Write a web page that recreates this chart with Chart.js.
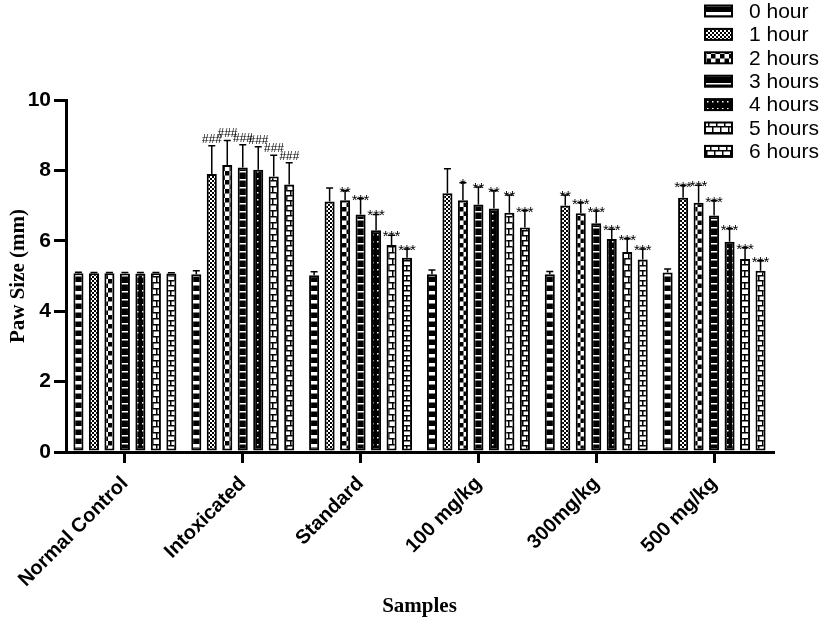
<!DOCTYPE html>
<html>
<head>
<meta charset="utf-8">
<script src="https://cdn.jsdelivr.net/npm/chart.js@4.4.0/dist/chart.umd.min.js"></script>
<style>
html, body { margin: 0; padding: 0; background: #fff; }
</style>
</head>
<body>
<canvas id="canvas" width="823" height="625"></canvas>
<script>
var categories = ['Normal Control', 'Intoxicated', 'Standard', '100 mg/kg', '300mg/kg', '500 mg/kg'];
var seriesNames = ['0 hour', '1 hour', '2 hours', '3 hours', '4 hours', '5 hours', '6 hours'];
var yTicks = [0, 2, 4, 6, 8, 10];

// mean paw size (mm) per hour
var hour0 = [5.08, 5.05, 5.02, 5.05, 5.05, 5.10];
var hour1 = [5.08, 7.90, 7.12, 7.35, 7.00, 7.22];
var hour2 = [5.08, 8.15, 7.15, 7.15, 6.78, 7.08];
var hour3 = [5.07, 8.08, 6.75, 7.03, 6.50, 6.72];
var hour4 = [5.07, 8.02, 6.30, 6.92, 6.05, 5.97];
var hour5 = [5.08, 7.83, 5.88, 6.80, 5.68, 5.48];
var hour6 = [5.07, 7.60, 5.52, 6.38, 5.47, 5.15];

// error (upper only)
var err0 = [0.03, 0.10, 0.10, 0.12, 0.08, 0.10];
var err1 = [0.02, 0.80, 0.38, 0.70, 0.30, 0.35];
var err2 = [0.02, 0.70, 0.27, 0.50, 0.30, 0.50];
var err3 = [0.03, 0.65, 0.45, 0.50, 0.35, 0.42];
var err4 = [0.03, 0.65, 0.45, 0.50, 0.28, 0.37];
var err5 = [0.02, 0.60, 0.28, 0.50, 0.38, 0.32];
var err6 = [0.02, 0.62, 0.25, 0.48, 0.30, 0.28];

// significance marks
var sig0 = ['', '', '', '', '', ''];
var sig1 = ['', '###', '', '', '**', '***'];
var sig2 = ['', '###', '**', '*', '***', '***'];
var sig3 = ['', '###', '***', '**', '***', '***'];
var sig4 = ['', '###', '***', '**', '***', '***'];
var sig5 = ['', '###', '***', '**', '***', '***'];
var sig6 = ['', '###', '***', '***', '***', '***'];

var SANS = '"Liberation Sans", Arial, sans-serif';
var SERIF = '"Liberation Serif", "Times New Roman", serif';

function makePattern(w, h, draw) {
    var c = document.createElement('canvas');
    c.width = w;
    c.height = h;
    var p = c.getContext('2d');
    draw(p);
    return document.getElementById('canvas').getContext('2d').createPattern(c, 'repeat');
}

var patterns = [
    // 0 hour: black with wide white dashes
    makePattern(8, 9, function (p) {
        p.fillStyle = '#000'; p.fillRect(0, 0, 8, 9);
        p.fillStyle = '#fff'; p.fillRect(0, 3, 8, 3.5);
    }),
    // 1 hour: fine checker
    makePattern(4, 4, function (p) {
        p.fillStyle = '#fff'; p.fillRect(0, 0, 4, 4);
        p.fillStyle = '#000'; p.fillRect(0, 0, 2, 2); p.fillRect(2, 2, 2, 2);
    }),
    // 2 hours: large checker
    makePattern(9, 9, function (p) {
        p.fillStyle = '#fff'; p.fillRect(0, 0, 9, 9);
        p.fillStyle = '#000'; p.fillRect(0, 0, 4.5, 4.5); p.fillRect(4.5, 4.5, 4.5, 4.5);
    }),
    // 3 hours: black with thin white lines
    makePattern(8, 8, function (p) {
        p.fillStyle = '#000'; p.fillRect(0, 0, 8, 8);
        p.fillStyle = '#fff'; p.fillRect(0, 3, 8, 1.5);
    }),
    // 4 hours: black with white dots
    makePattern(5, 7, function (p) {
        p.fillStyle = '#000'; p.fillRect(0, 0, 5, 7);
        p.fillStyle = '#fff'; p.fillRect(2, 3, 1.5, 1.5);
    }),
    // 5 hours: bricks
    makePattern(8, 12, function (p) {
        p.fillStyle = '#fff'; p.fillRect(0, 0, 8, 12);
        p.fillStyle = '#000';
        p.fillRect(0, 0, 8, 1.5); p.fillRect(0, 6, 8, 1.5);
        p.fillRect(4, 0, 1.5, 6); p.fillRect(0, 6, 1.5, 6);
    }),
    // 6 hours: tight interlocking bricks
    makePattern(8, 10, function (p) {
        p.fillStyle = '#fff'; p.fillRect(0, 0, 8, 10);
        p.fillStyle = '#000';
        p.fillRect(0, 0, 8, 1.5); p.fillRect(0, 5, 8, 1.5);
        p.fillRect(2, 0, 1.5, 5); p.fillRect(6, 5, 1.5, 5);
    })
];

var values = [hour0, hour1, hour2, hour3, hour4, hour5, hour6];
var errors = [err0, err1, err2, err3, err4, err5, err6];
var signs = [sig0, sig1, sig2, sig3, sig4, sig5, sig6];

var datasets = [];
for (var i = 0; i < seriesNames.length; i++) {
    datasets.push({
        label: seriesNames[i],
        data: values[i],
        errors: errors[i],
        signs: signs[i],
        backgroundColor: patterns[i],
        borderColor: '#000',
        borderWidth: 2,
        borderSkipped: false,
        categoryPercentage: 0.92,
        barPercentage: 0.65
    });
}

// upper error bars with significance marks
var errorBars = {
    id: 'errorBars',
    afterDatasetsDraw: function (chart) {
        var ctx = chart.ctx;
        var yScale = chart.scales.y;
        ctx.save();
        ctx.strokeStyle = '#000';
        ctx.fillStyle = '#000';
        ctx.lineWidth = 1.5;
        ctx.textAlign = 'center';
        ctx.textBaseline = 'alphabetic';
        chart.data.datasets.forEach(function (ds, i) {
            chart.getDatasetMeta(i).data.forEach(function (bar, j) {
                var top = yScale.getPixelForValue(ds.data[j] + ds.errors[j]);
                ctx.beginPath();
                ctx.moveTo(bar.x, bar.y);
                ctx.lineTo(bar.x, top);
                ctx.moveTo(bar.x - 3.5, top);
                ctx.lineTo(bar.x + 3.5, top);
                ctx.stroke();
                var s = ds.signs[j];
                if (s) {
                    if (s.charAt(0) === '#') {
                        ctx.font = 'italic 12px ' + SANS;
                        ctx.fillText(s, bar.x, top - 3);
                    } else {
                        ctx.font = '15px ' + SANS;
                        ctx.fillText(s, bar.x, top + 6);
                    }
                }
            });
        });
        ctx.restore();
    }
};

// legend in the top right corner
var cornerLegend = {
    id: 'cornerLegend',
    afterDraw: function (chart) {
        var ctx = chart.ctx;
        ctx.save();
        ctx.font = '21px ' + SANS;
        ctx.textAlign = 'left';
        ctx.textBaseline = 'middle';
        chart.data.datasets.forEach(function (ds, i) {
            var cy = 11 + i * 23.4;
            ctx.fillStyle = ds.backgroundColor;
            ctx.fillRect(705, cy - 5.5, 27, 11);
            ctx.strokeStyle = '#000';
            ctx.lineWidth = 2;
            ctx.strokeRect(705, cy - 5.5, 27, 11);
            ctx.fillStyle = '#000';
            ctx.fillText(ds.label, 749, cy + 1);
        });
        ctx.restore();
    }
};

var ctx = document.getElementById('canvas').getContext('2d');
var myChart = new Chart(ctx, {
    type: 'bar',
    data: {
        labels: categories,
        datasets: datasets
    },
    options: {
        responsive: false,
        animation: false,
        layout: { padding: { top: 100, right: 50, left: 0, bottom: 0 } },
        plugins: {
            legend: { display: false },
            tooltip: { enabled: false }
        },
        scales: {
            x: {
                grid: {
                    display: true,
                    drawOnChartArea: false,
                    offset: false,
                    color: '#000',
                    lineWidth: 3,
                    tickLength: 11
                },
                border: { color: '#000', width: 3 },
                ticks: {
                    color: '#000',
                    autoSkip: false,
                    maxRotation: 45,
                    minRotation: 45,
                    padding: 9,
                    font: { family: SANS, size: 20, weight: 'bold' }
                },
                title: {
                    display: true,
                    text: 'Samples',
                    color: '#000',
                    padding: { top: 0, bottom: 6 },
                    font: { family: SERIF, size: 21, weight: 'bold' }
                },
                afterFit: function (scale) { scale.height = 173; }
            },
            y: {
                min: 0,
                max: 10,
                afterBuildTicks: function (scale) {
                    scale.ticks = yTicks.map(function (v) { return { value: v }; });
                },
                grid: {
                    drawOnChartArea: false,
                    color: '#000',
                    lineWidth: 3,
                    tickLength: 12
                },
                border: { color: '#000', width: 3 },
                ticks: {
                    color: '#000',
                    padding: 3,
                    font: { family: SANS, size: 21, weight: 'bold' }
                },
                title: {
                    display: true,
                    text: 'Paw Size (mm)',
                    color: '#000',
                    padding: { top: 6, bottom: 0 },
                    font: { family: SERIF, size: 21, weight: 'bold' }
                },
                afterFit: function (scale) { scale.width = 66; }
            }
        }
    },
    plugins: [errorBars, cornerLegend]
});
</script>
</body>
</html>
